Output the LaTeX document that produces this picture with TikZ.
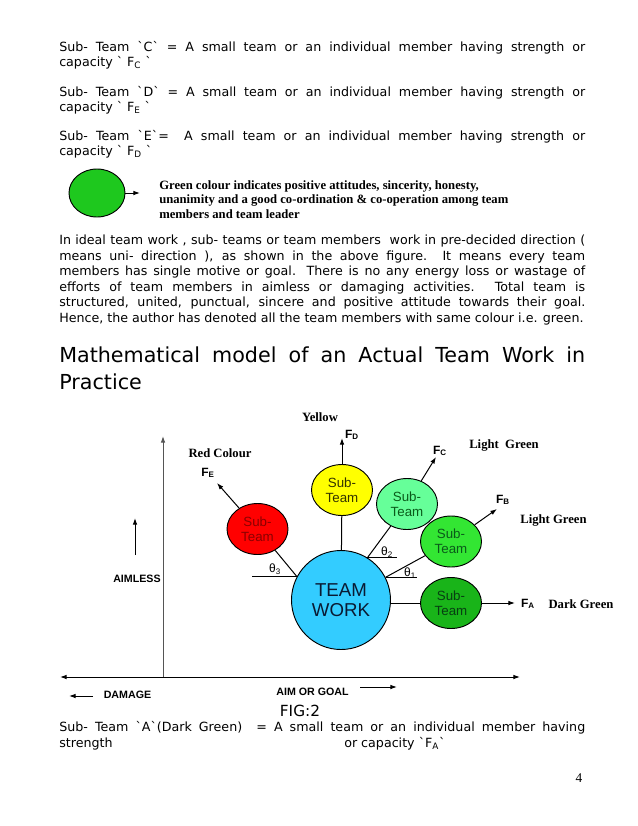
\documentclass[tikz,border=0pt]{standalone}
\usepackage{fontspec}
\setmainfont{DejaVu Sans}[Ligatures=TeXOff]
\newfontfamily\serifbf{Liberation Serif}[Ligatures=TeXOff]
\newfontfamily\arialfont{Liberation Sans}[Ligatures=TeXOff]
\usepackage{xcolor}
\definecolor{teamblue}{HTML}{33CCFF}
\definecolor{teamtxt}{HTML}{0A1A33}
\definecolor{subred}{HTML}{FF0000}
\definecolor{subredtxt}{HTML}{8A0000}
\definecolor{subyellow}{HTML}{FFFF00}
\definecolor{subyellowtxt}{HTML}{333300}
\definecolor{subltgreen}{HTML}{66FF99}
\definecolor{subgreen}{HTML}{33E633}
\definecolor{subdkgreen}{HTML}{19B419}
\definecolor{subgreentxt}{HTML}{0A5A1A}
\definecolor{legendgreen}{HTML}{1EC81E}
\definecolor{axisgray}{HTML}{555555}
\usepackage{tikz}
\usetikzlibrary{positioning, arrows.meta, shapes.geometric}
\newcommand{\jline}[1]{\makebox[394.5pt][s]{#1}}
\newcommand{\bodysize}{\fontsize{9.5}{11.5}\selectfont}
\tikzset{
    txt/.style = {anchor=base west, inner sep=0pt, font=\bodysize},
    subteam/.style = {ellipse, draw, line width=0.7pt, minimum width=45.75pt,
                      minimum height=38.25pt, inner sep=0pt, align=center,
                      font=\arialfont\fontsize{10}{11}\selectfont},
    team/.style = {circle, draw, line width=0.7pt, fill=teamblue, text=teamtxt,
                   minimum size=74.25pt, inner sep=0pt, align=center,
                   font=\arialfont\fontsize{14}{15}\selectfont},
    colourlbl/.style = {inner sep=0pt, font=\serifbf\bfseries\fontsize{9.5}{11}\selectfont},
    flbl/.style = {inner sep=0pt, font=\arialfont\bfseries\fontsize{9}{10}\selectfont},
    tag/.style = {inner sep=0pt, font=\arialfont\bfseries\fontsize{8}{9}\selectfont},
    angle/.style = {inner sep=0pt, font=\arialfont\fontsize{9}{10}\selectfont},
    arrow/.style = {-{Latex[length=5pt, width=3.5pt]}, line width=0.75pt},
    link/.style = {line width=0.75pt},
}

\begin{document}
\begin{tikzpicture}[x=0.75pt, y=-0.75pt]
        \useasboundingbox (0,0) rectangle (638,826);
        % definitions above the figure
        \node[txt] (defC) at (59,51) {\jline{Sub- Team `C` = A small team or an individual member having strength or}};
        \node[txt] (capC) at (59,66) {capacity ` F\textsubscript{C} `};
        \node[txt] (defD) at (59,96) {\jline{Sub- Team `D` = A small team or an individual member having strength or}};
        \node[txt] (capD) at (59,111) {capacity ` F\textsubscript{E} `};
        \node[txt] (defE) at (59,140) {\jline{Sub- Team `E`=\hspace{1.2em}A small team or an individual member having strength or}};
        \node[txt] (capE) at (59,155) {capacity ` F\textsubscript{D} `};
        % legend
        \node[ellipse, draw, line width=0.7pt, fill=legendgreen, minimum width=42pt, minimum height=36pt] (legend) at (97,193) {};
        \coordinate (legtip) at (140,193);
        \draw[arrow] (legend) -- (legtip);
        \node[txt, font=\serifbf\bfseries\fontsize{9.5}{11}\selectfont] (leg1) at (159,189) {Green colour indicates positive attitudes, sincerity, honesty,};
        \node[txt, font=\serifbf\bfseries\fontsize{9.5}{11}\selectfont] (leg2) at (159,203.5) {unanimity and a good co-ordination \& co-operation among team};
        \node[txt, font=\serifbf\bfseries\fontsize{9.5}{11}\selectfont] (leg3) at (159,218) {members and team leader};
        % paragraph
        \node[txt] (par1) at (59,244.5) {\jline{In ideal team work , sub- teams or team members\ \ work in pre-decided direction (}};
        \node[txt] (par2) at (59,260) {\jline{means uni- direction ), as shown in the above figure.\ \ It means every team}};
        \node[txt] (par3) at (59,275.5) {\jline{members has single motive or goal. There is no any energy loss or wastage of}};
        \node[txt] (par4) at (59,291) {\jline{efforts of team members in aimless or damaging activities. Total team is}};
        \node[txt] (par5) at (59,306.5) {\jline{structured, united, punctual, sincere and positive attitude towards their goal.}};
        \node[txt] (par6) at (59,322) {Hence, the author has denoted all the team members with same colour i.e. green.};
        % heading
        \node[txt, font=\fontsize{15.5}{21}\selectfont] (head1) at (59,362) {\jline{Mathematical model of an Actual Team Work in}};
        \node[txt, font=\fontsize{15.5}{21}\selectfont] (head2) at (59,389) {Practice};
        % axes
        \coordinate (origin) at (163,677);
        \coordinate (ytop) at (163,436);
        \coordinate (xleft) at (60,677);
        \coordinate (xright) at (520,677);
        \draw[arrow, axisgray] (origin) -- (ytop);
        \draw[link, {Latex[length=5pt, width=3.5pt]}-{Latex[length=5pt, width=3.5pt]}] (xleft) -- (xright);
        % sub-teams
        \node[subteam, fill=subred, text=subredtxt] (subE) at (257.5,529) {Sub-\\Team};
        \node[subteam, fill=subyellow, text=subyellowtxt] (subD) at (342,490) {Sub-\\Team};
        \node[subteam, fill=subltgreen, text=subgreentxt] (subC) at (407,504) {Sub-\\Team};
        \node[subteam, fill=subgreen, text=subgreentxt] (subB) at (451,541.5) {Sub-\\Team};
        \node[subteam, fill=subdkgreen, text=subgreentxt!70!black] (subA) at (451,603) {Sub-\\Team};
        \node[team] (team) at (341,600) {TEAM\\WORK};
        % links to the team
        \draw[link] (team.152) -- (subE);
        \draw[link] (team) -- (subD);
        \draw[link] (team.58) -- (subC);
        \draw[link] (team.27) -- (subB);
        \draw[link] (subA) -- (subA -| team.east);
        % angle references
        \coordinate (h3) at (252,0);
        \coordinate (h2) at (397,0);
        \coordinate (h1) at (417,0);
        \draw[link] (team.152) -- (team.152 -| h3);
        \draw[link] (team.58) -- (team.58 -| h2);
        \draw[link] (team.27) -- (team.27 -| h1);
        \node[angle] (th3) at (275,569) {θ\textsubscript{3}};
        \node[angle] (th2) at (387,552) {θ\textsubscript{2}};
        \node[angle] (th1) at (410,573) {θ\textsubscript{1}};
        % forces
        \coordinate (tipE) at (217,483);
        \coordinate (tipD) at (342,438);
        \coordinate (tipC) at (436,457);
        \coordinate (tipB) at (497,509);
        \coordinate (tipA) at (515,603);
        \draw[arrow] (subE) -- (tipE);
        \draw[arrow] (subD) -- (tipD);
        \draw[arrow] (subC) -- (tipC);
        \draw[arrow] (subB) -- (tipB);
        \draw[arrow] (subA) -- (tipA);
        \node[flbl] (fE) at (208,473) {F\textsubscript{E}};
        \node[flbl] (fD) at (352,435) {F\textsubscript{D}};
        \node[flbl] (fC) at (440,451) {F\textsubscript{C}};
        \node[flbl] (fB) at (503,500) {F\textsubscript{B}};
        \node[flbl] (fA) at (528,604) {F\textsubscript{A}};
        \node[colourlbl] (yellow) at (320,417) {Yellow};
        \node[colourlbl] (red) at (220,453) {Red Colour};
        \node[colourlbl] (light1) at (504,445) {Light\ \ Green};
        \node[colourlbl] (light2) at (553.5,520) {Light Green};
        \node[colourlbl] (dark) at (581,604) {Dark Green};
        % axis captions
        \coordinate (aimlessA) at (135,555);
        \coordinate (aimlessB) at (135,518);
        \draw[arrow] (aimlessA) -- (aimlessB);
        \node[tag] (aimless) at (137,579) {AIMLESS};
        \coordinate (damageA) at (93,696);
        \coordinate (damageB) at (69,696);
        \draw[arrow] (damageA) -- (damageB);
        \node[tag] (damage) at (127.5,695) {DAMAGE};
        \coordinate (goalA) at (360,687);
        \coordinate (goalB) at (397,687);
        \draw[arrow] (goalA) -- (goalB);
        \node[tag] (goal) at (312.5,692) {AIM OR GOAL};
        \node[inner sep=0pt, font=\fontsize{11.5}{13}\selectfont] (fig) at (300,711) {FIG:2};
        % definition below the figure
        \node[txt] (defA) at (59,731) {\jline{Sub- Team `A`(Dark Green)\ \ = A small team or an individual member having}};
        \node[txt] (capA1) at (59,747) {strength};
        \node[txt] (capA2) at (344,747) {or capacity `F\textsubscript{A}`};
        \node[inner sep=0pt, font=\serifbf\fontsize{10}{12}\selectfont] (page) at (579,778) {4};
\end{tikzpicture}
\end{document}
